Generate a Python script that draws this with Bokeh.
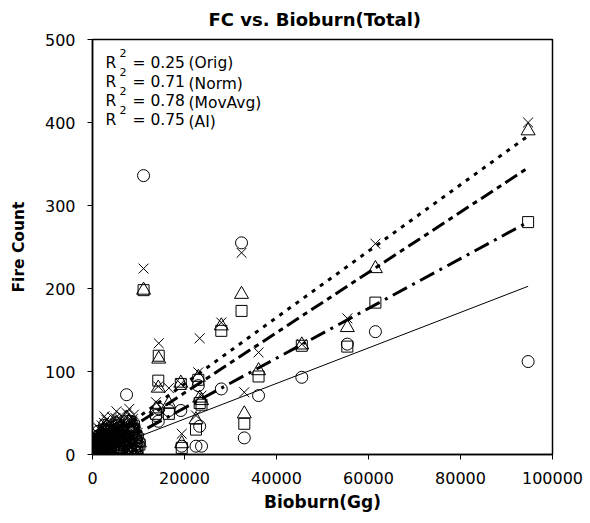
from bokeh.plotting import figure
from bokeh.models import Range1d, FixedTicker, Label, ColumnDataSource
from bokeh.embed import file_html
from bokeh.resources import INLINE
import numpy as np

# ---------------- data ----------------
bioburn = [100, 250, 400, 550, 700, 850, 1000, 1200, 1400, 1600, 1800, 2000, 2200, 2500,
           2800, 3000, 3300, 3600, 4000, 4300, 4700, 5000, 5400, 5800, 6200, 6600, 7000,
           7400, 7800, 8200, 8600, 9000, 9400, 9800, 10200, 600, 1300, 2600, 3800, 5200,
           6400, 8000, 1100, 1900, 300,
           150, 450, 750, 950, 1150, 1500, 1700, 2100, 2400, 2700, 3100, 3500, 3900,
           4500, 4900, 5600, 6000, 6800, 7200, 7600, 8400, 8800, 9200, 9600, 500, 1250,
           11100, 13800, 14400, 14300, 16600, 19200, 19400, 22500, 23700, 23000, 23300,
           28000, 32400, 33000, 36100, 45500, 55400, 61500, 94700]
orig = [2, 5, 1, 8, 3, 12, 6, 15, 4, 20, 9, 25, 3, 18,
        11, 30, 7, 22, 14, 33, 10, 26, 17, 8, 28, 20, 13,
        72, 24, 6, 19, 30, 12, 22, 15, 15, 28, 35, 5, 38,
        4, 40, 1, 0, 0,
        1, 3, 6, 2, 9, 5, 13, 7, 4, 16, 10, 3, 18,
        6, 12, 4, 21, 9, 16, 5, 11, 27, 8, 18, 4, 10,
        336, 47, 55, 40, 53, 53, 10, 10, 10, 83, 34,
        79, 255, 20, 71, 93, 133, 148, 112]
norm = [3, 4, 6, 9, 5, 14, 10, 18, 8, 22, 14, 20, 12, 24,
        16, 25, 13, 28, 20, 27, 18, 30, 22, 16, 32, 26, 22,
        40, 30, 14, 28, 34, 20, 8, 12, 12, 18, 30, 10, 35,
        8, 36, 2, 1, 1,
        2, 4, 8, 3, 12, 7, 16, 10, 6, 19, 13, 5, 22,
        9, 15, 6, 24, 12, 19, 8, 4, 30, 3, 10, 6, 14,
        198, 49, 119, 89, 49, 85, 8, 30, 60, 90, 62,
        149, 173, 37, 94, 131, 130, 183, 280]
movavg = [3, 6, 5, 10, 6, 13, 11, 20, 9, 24, 15, 22, 14, 27,
          18, 28, 15, 30, 23, 30, 21, 33, 25, 18, 35, 29, 24,
          44, 33, 16, 31, 37, 22, 2, 14, 14, 20, 33, 12, 38,
          10, 40, 2, 1, 1,
          2, 5, 9, 4, 13, 8, 18, 11, 7, 21, 15, 6, 24,
          10, 17, 7, 27, 14, 21, 9, 2, 33, 1, 5, 7, 15,
          198, 55, 115, 80, 61, 86, 13, 42, 65, 93, 68,
          155, 193, 49, 101, 132, 153, 224, 390]
ai = [4, 8, 9, 12, 10, 18, 15, 25, 14, 30, 22, 35, 18, 38,
      28, 42, 24, 40, 33, 45, 30, 44, 36, 26, 47, 39, 34,
      50, 42, 22, 40, 48, 30, 26, 20, 20, 32, 46, 18, 52,
      15, 55, 4, 3, 2,
      3, 7, 12, 5, 17, 11, 23, 15, 10, 27, 19, 8, 31,
      14, 24, 10, 36, 20, 29, 13, 9, 43, 6, 16, 10, 21,
      224, 63, 134, 82, 80, 85, 25, 47, 71, 99, 140,
      159, 243, 75, 123, 133, 164, 254, 400]

# linear fits (slope, intercept) for Orig, Norm, MovAvg, AI
fit_slope = [0.00214, 0.00300, 0.00363, 0.00400]
fit_intercept = [0.0, -4.0, 1.6, 5.0]
r2_values = ["0.25", "0.71", "0.78", "0.75"]
r2_names = ["(Orig)", "(Norm)", "(MovAvg)", "(AI)"]

x_ticks = [0, 20000, 40000, 60000, 80000, 100000]
x_tick_labels = ["0", "20000", "40000", "60000", "80000", "100000"]
y_ticks = [0, 100, 200, 300, 400, 500]
y_tick_labels = ["0", "100", "200", "300", "400", "500"]
title_text = "FC vs. Bioburn(Total)"

# ---------------- figure ----------------
FONT = "DejaVu Sans"
p = figure(width=590, height=523, x_range=Range1d(0, 100000), y_range=Range1d(0, 500),
           output_backend="svg", toolbar_location=None, title=title_text,
           min_border_left=92, min_border_right=38, min_border_top=39, min_border_bottom=69)
p.background_fill_color = "white"
p.border_fill_color = "white"
p.outline_line_color = "black"
p.outline_line_width = 1.5
p.xgrid.visible = False
p.ygrid.visible = False

p.title.text_font = FONT
p.title.text_font_size = "18px"
p.title.text_font_style = "bold"
p.title.align = "left"
p.title.offset = 116
p.title.text_color = "black"
p.title.vertical_align = "top"
p.title.standoff = 16

for ax in (p.xaxis[0], p.yaxis[0]):
    ax.axis_line_color = "black"
    ax.axis_line_width = 1.5
    ax.major_tick_line_color = "black"
    ax.major_tick_line_width = 1
    ax.major_tick_in = 0
    ax.major_tick_out = 5
    ax.minor_tick_line_color = None
    ax.major_label_text_font = FONT
    ax.major_label_text_font_size = "16px"
    ax.major_label_text_color = "black"
    ax.axis_label_text_font = FONT
    ax.axis_label_text_font_style = "bold"
    ax.axis_label_text_color = "black"

p.xaxis.ticker = FixedTicker(ticks=x_ticks)
p.xaxis.major_label_overrides = dict(zip(x_ticks, x_tick_labels))
p.yaxis.ticker = FixedTicker(ticks=y_ticks)
p.yaxis.major_label_overrides = dict(zip(y_ticks, y_tick_labels))
p.xaxis.major_label_standoff = 12
p.yaxis.major_label_standoff = 12
p.xaxis.axis_label = "Bioburn(Gg)"
p.xaxis.axis_label_text_font_size = "17px"
p.xaxis.axis_label_standoff = 5
p.yaxis.axis_label = "Fire Count"
p.yaxis.axis_label_text_font_size = "15.5px"
p.yaxis.axis_label_standoff = 14

src = ColumnDataSource(dict(x=bioburn, orig=orig, norm=norm, movavg=movavg, ai=ai))
p.scatter("x", "orig", source=src, marker="circle", size=12, fill_alpha=0,
          line_color="black", line_width=1)
p.scatter("x", "norm", source=src, marker="square", size=11, fill_alpha=0,
          line_color="black", line_width=1)
p.scatter("x", "movavg", source=src, marker="triangle", size=14, fill_alpha=0,
          line_color="black", line_width=1)
p.scatter("x", "ai", source=src, marker="x", size=14,
          line_color="black", line_width=1)

# regression lines
xs = np.array([min(bioburn), max(bioburn)], dtype=float)
styles = [("solid", 1), ("16 6 3 6", 3), ("14 5 5 5", 3), ("4 6", 3)]
for (dash, lw), m, b in zip(styles, fit_slope, fit_intercept):
    p.line(xs, m * xs + b, line_color="black", line_width=lw, line_dash=dash)

# R^2 annotations
y0 = 472.0
dy = 23.0
for i, (v, n) in enumerate(zip(r2_values, r2_names)):
    yy = y0 - i * dy
    p.add_layout(Label(x=0, y=yy, x_offset=13, text="R", text_font=FONT,
                       text_font_size="15.5px", text_baseline="middle", text_color="black"))
    p.add_layout(Label(x=0, y=yy, x_offset=27, y_offset=10, text="2", text_font=FONT,
                       text_font_size="11px", text_baseline="middle", text_color="black"))
    p.add_layout(Label(x=0, y=yy, x_offset=40, text="= " + v, text_font=FONT,
                       text_font_size="15.5px", text_baseline="middle", text_color="black"))
    p.add_layout(Label(x=0, y=yy, x_offset=96, y_offset=(0 if i == 0 else -2), text=n,
                       text_font=FONT, text_font_size="15.5px", text_baseline="middle",
                       text_color="black"))

open("out.html", "w").write(file_html(p, INLINE))
